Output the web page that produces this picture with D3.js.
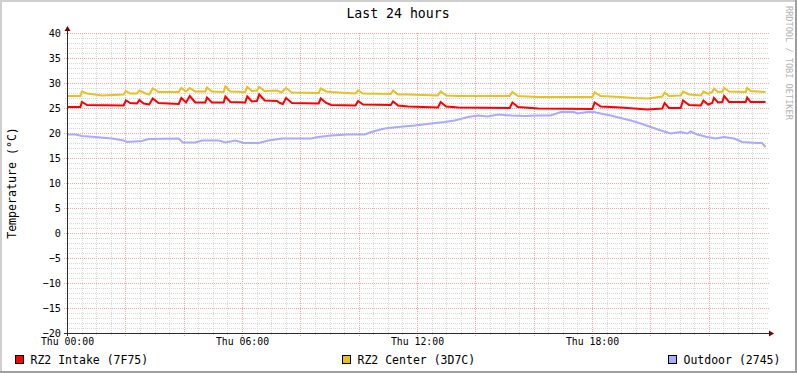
<!DOCTYPE html>
<html>
<head>
<meta charset="utf-8">
<script src="https://cdn.jsdelivr.net/npm/d3@7"></script>
<style>
  body { margin: 0; background: #fff; }
  svg { display: block; font-family: "DejaVu Sans Mono", monospace; }
</style>
</head>
<body>
<div class="chart"></div>
<script>
// Last 24 hours, rrdtool look-alike

var W = 797, H = 373;

// hours since Thu 00:00 and readings (degC)
var intakeHours = [0, 0.46, 0.51, 0.69, 1.94, 2.02, 2.17, 2.4, 2.48, 2.63, 2.82, 2.94, 3.14, 3.83, 3.92, 4.08, 4.21, 4.4, 4.74, 4.8, 4.97, 5.37, 5.43, 5.6, 6.11, 6.18, 6.34, 6.51, 6.59, 6.78, 7.2, 7.3, 7.4, 7.51, 7.71, 8.63, 8.7, 8.89, 9.06, 9.89, 9.98, 10.15, 11.1, 11.18, 11.35, 11.69, 12.72, 12.81, 13.0, 13.41, 15.18, 15.27, 15.46, 16.15, 18.01, 18.09, 18.3, 18.98, 19.44, 19.9, 20.41, 20.49, 20.64, 21.04, 21.12, 21.33, 21.73, 21.82, 21.98, 22.12, 22.18, 22.32, 22.47, 22.53, 22.7, 23.27, 23.32, 23.44, 23.95];
var intakeTemps = [25.2, 25.2, 26.2, 25.6, 25.5, 26.5, 26.0, 25.9, 26.6, 25.9, 25.7, 26.9, 26.0, 25.8, 27.0, 26.1, 27.4, 26.1, 26.1, 27.1, 26.1, 26.1, 27.3, 26.2, 26.1, 27.3, 26.3, 26.4, 27.7, 26.5, 26.4, 26.0, 25.8, 27.0, 26.0, 25.9, 26.9, 26.0, 25.6, 25.5, 26.4, 25.7, 25.6, 26.3, 25.5, 25.3, 25.1, 26.2, 25.3, 25.1, 25.0, 26.1, 25.2, 24.9, 24.8, 26.1, 25.3, 25.1, 24.9, 24.7, 24.9, 26.0, 25.0, 25.0, 26.5, 25.6, 25.5, 26.5, 25.7, 26.0, 27.0, 26.1, 26.2, 27.4, 26.2, 26.2, 27.1, 26.2, 26.2];

var centerHours = [0, 0.46, 0.51, 0.69, 1.2, 1.94, 2.02, 2.17, 2.4, 2.48, 2.7, 2.82, 2.94, 3.14, 3.83, 3.92, 4.08, 4.21, 4.4, 4.74, 4.8, 4.97, 5.37, 5.43, 5.6, 6.11, 6.18, 6.34, 6.51, 6.59, 6.78, 7.2, 7.35, 7.51, 7.71, 8.63, 8.7, 8.89, 9.06, 9.89, 9.98, 10.15, 11.1, 11.18, 11.35, 11.69, 12.72, 12.81, 13.0, 13.41, 15.18, 15.27, 15.46, 16.15, 18.01, 18.09, 18.3, 18.98, 19.44, 19.9, 20.41, 20.49, 20.64, 21.04, 21.12, 21.33, 21.73, 21.82, 21.98, 22.12, 22.18, 22.32, 22.47, 22.53, 22.7, 23.27, 23.32, 23.44, 23.95];
var centerTemps = [27.4, 27.4, 28.3, 27.9, 27.5, 27.7, 28.4, 27.9, 27.9, 28.5, 27.9, 27.7, 28.9, 28.2, 28.2, 29.0, 28.3, 29.0, 28.3, 28.3, 29.1, 28.3, 28.2, 29.3, 28.3, 28.2, 29.2, 28.4, 28.5, 29.2, 28.4, 28.5, 28.1, 29.0, 28.1, 28.0, 28.9, 28.3, 28.2, 27.9, 28.5, 27.9, 27.8, 28.5, 27.7, 27.7, 27.5, 28.3, 27.5, 27.4, 27.4, 28.2, 27.4, 27.2, 27.2, 28.1, 27.4, 27.2, 27.0, 26.9, 27.3, 28.1, 27.4, 27.5, 28.3, 27.7, 27.5, 28.3, 27.8, 28.2, 28.9, 28.2, 28.3, 29.0, 28.3, 28.2, 29.0, 28.4, 28.2];

var outdoorHours = [0, 0.29, 0.51, 0.97, 1.54, 1.94, 2.06, 2.57, 2.8, 3.83, 3.97, 4.4, 4.63, 5.2, 5.43, 5.77, 6.06, 6.57, 6.91, 7.37, 8.38, 8.61, 9.06, 9.63, 10.21, 10.43, 10.89, 11.35, 11.92, 12.49, 12.95, 13.29, 13.75, 14.09, 14.43, 14.78, 15.23, 15.69, 16.15, 16.58, 16.93, 17.38, 17.5, 17.84, 18.07, 18.3, 18.64, 18.98, 19.33, 19.67, 20.01, 20.36, 20.7, 21.04, 21.27, 21.38, 21.61, 21.95, 22.24, 22.53, 22.87, 23.15, 23.66, 23.83, 23.95];
var outdoorTemps = [19.7, 19.7, 19.4, 19.2, 18.9, 18.5, 18.2, 18.4, 18.8, 18.9, 18.1, 18.1, 18.5, 18.5, 18.1, 18.5, 18.0, 18.0, 18.5, 18.9, 18.9, 19.2, 19.5, 19.7, 19.7, 20.2, 20.9, 21.2, 21.5, 21.9, 22.2, 22.5, 23.2, 23.5, 23.3, 23.7, 23.5, 23.4, 23.5, 23.5, 24.2, 24.2, 23.9, 24.2, 24.2, 23.9, 23.5, 23.0, 22.5, 21.9, 21.2, 20.5, 19.9, 20.2, 19.9, 20.3, 19.7, 19.2, 18.9, 19.2, 18.9, 18.2, 18.0, 18.0, 17.2];

var seriesNames = ["RZ2 Intake (7F75)", "RZ2 Center (3D7C)", "Outdoor (2745)"];
var seriesColors = ["#ff0000", "#e8c020", "#aaaaff"];

var yTicks = [-20, -15, -10, -5, 0, 5, 10, 15, 20, 25, 30, 35, 40];
var xTickHours = [0, 6, 12, 18];
var xTickLabels = ["Thu 00:00", "Thu 06:00", "Thu 12:00", "Thu 18:00"];

var x = d3.scaleLinear().domain([0, 24]).range([67, 767]);
var y = d3.scaleLinear().domain([-20, 40]).range([333, 33]);

var svg = d3.select('.chart').append('svg')
	.attr('width', W)
	.attr('height', H);

svg.append('rect').attr('width', W).attr('height', H).attr('fill', '#ffffff');

// 3d frame
svg.append('rect').attr('x', 0).attr('y', 0).attr('width', W).attr('height', 2).attr('fill', '#cfcfcf');
svg.append('rect').attr('x', 0).attr('y', 0).attr('width', 2).attr('height', H).attr('fill', '#cfcfcf');
svg.append('rect').attr('x', 0).attr('y', H - 2).attr('width', W).attr('height', 2).attr('fill', '#9e9e9e');
svg.append('rect').attr('x', W - 2).attr('y', 0).attr('width', 2).attr('height', H).attr('fill', '#9e9e9e');

// grid
var grid = svg.append('g').attr('shape-rendering', 'crispEdges');

var minorY = d3.range(-20, 41, 1).filter(function(d) { return d % 5 != 0; });
var minorX = d3.range(0.5, 24, 0.5).filter(function(d) { return d % 2 != 0; });
var majorX = d3.range(2, 24, 2);

grid.selectAll('.minY').data(minorY).enter().append('line')
	.attr('x1', x(0) - 2).attr('x2', x(24) + 2)
	.attr('y1', function(d) { return Math.round(y(d)) + 0.5; })
	.attr('y2', function(d) { return Math.round(y(d)) + 0.5; })
	.attr('stroke', '#d8d8d8').attr('stroke-dasharray', '1,1');

grid.selectAll('.minX').data(minorX).enter().append('line')
	.attr('y1', y(-20) + 2).attr('y2', y(40))
	.attr('x1', function(d) { return Math.round(x(d)) + 0.5; })
	.attr('x2', function(d) { return Math.round(x(d)) + 0.5; })
	.attr('stroke', '#d8d8d8').attr('stroke-dasharray', '1,1');

grid.selectAll('.majY').data(yTicks.filter(function(d) { return d != -20; })).enter().append('line')
	.attr('x1', x(0) - 3).attr('x2', x(24) + 2)
	.attr('y1', function(d) { return Math.round(y(d)) + 0.5; })
	.attr('y2', function(d) { return Math.round(y(d)) + 0.5; })
	.attr('stroke', '#eca8a8').attr('stroke-dasharray', '1,1');

grid.selectAll('.majX').data(majorX).enter().append('line')
	.attr('y1', y(-20) + 3).attr('y2', y(40))
	.attr('x1', function(d) { return Math.round(x(d)) + 0.5; })
	.attr('x2', function(d) { return Math.round(x(d)) + 0.5; })
	.attr('stroke', '#eca8a8').attr('stroke-dasharray', '1,1');

// data lines
var series = [
	{ hours: intakeHours, temps: intakeTemps },
	{ hours: centerHours, temps: centerTemps },
	{ hours: outdoorHours, temps: outdoorTemps }
];

var line = d3.line()
	.x(function(d) { return x(d[0]); })
	.y(function(d) { return y(d[1]); });

svg.selectAll('.series').data(series).enter().append('path')
	.attr('d', function(s) { return line(d3.zip(s.hours, s.temps)); })
	.attr('fill', 'none')
	.attr('stroke', function(d, i) { return seriesColors[i]; })
	.attr('stroke-width', 2)
	.attr('stroke-linejoin', 'miter');

// axes lines + arrows
svg.append('line')
	.attr('x1', x(0) - 3).attr('x2', x(24) + 3)
	.attr('y1', y(-20) + 0.5).attr('y2', y(-20) + 0.5)
	.attr('stroke', '#2c2c2c').attr('shape-rendering', 'crispEdges');
svg.append('line')
	.attr('x1', x(0) + 0.5).attr('x2', x(0) + 0.5)
	.attr('y1', y(-20) + 3).attr('y2', y(40) - 3)
	.attr('stroke', '#2c2c2c').attr('shape-rendering', 'crispEdges');
svg.append('path')
	.attr('d', 'M' + (x(24) + 2) + ',' + (y(-20) - 2.5) + 'L' + (x(24) + 7) + ',' + (y(-20) + 0.5) + 'L' + (x(24) + 2) + ',' + (y(-20) + 3.5) + 'Z')
	.attr('fill', '#7f0000');
svg.append('path')
	.attr('d', 'M' + (x(0) - 2.5) + ',' + (y(40) - 2) + 'L' + (x(0) + 0.5) + ',' + (y(40) - 7) + 'L' + (x(0) + 3.5) + ',' + (y(40) - 2) + 'Z')
	.attr('fill', '#7f0000');

// tick labels through d3 axes
var yAxis = svg.append('g')
	.attr('transform', 'translate(' + (x(0) - 6) + ',0)')
	.call(d3.axisLeft(y).tickValues(yTicks).tickSize(0).tickPadding(0).tickFormat(d3.format('d')));
yAxis.select('.domain').remove();
yAxis.selectAll('text').attr('font-family', 'DejaVu Sans Mono').attr('font-size', 10.2).attr('fill', '#000');

var xAxis = svg.append('g')
	.attr('transform', 'translate(0,' + (y(-20) + 5) + ')')
	.call(d3.axisBottom(x).tickValues(xTickHours).tickSize(0).tickPadding(0)
		.tickFormat(function(d, i) { return xTickLabels[i]; }));
xAxis.select('.domain').remove();
xAxis.selectAll('text').attr('font-family', 'DejaVu Sans Mono').attr('font-size', 9.8).attr('fill', '#000');

// title
svg.append('text')
	.attr('x', 398).attr('y', 18)
	.attr('text-anchor', 'middle')
	.attr('font-size', 13.2)
	.text('Last 24 hours');

// y label
svg.append('text')
	.attr('transform', 'translate(16,' + y(10) + ') rotate(-90)')
	.attr('text-anchor', 'middle')
	.attr('font-size', 11.6)
	.text('Temperature (°C)');

// watermark
svg.append('text')
	.attr('transform', 'translate(786,6) rotate(90)')
	.attr('font-size', 8.6)
	.attr('fill', '#b4b4b4')
	.text('RRDTOOL / TOBI OETIKER');

// legend
var legendX = [15, 342, 668];
var legend = svg.selectAll('.legend').data(seriesNames).enter().append('g')
	.attr('transform', function(d, i) { return 'translate(' + legendX[i] + ',355)'; });
legend.append('rect')
	.attr('x', 0.5).attr('y', 0.5).attr('width', 8).attr('height', 8)
	.attr('fill', function(d, i) { return seriesColors[i]; })
	.attr('stroke', '#000').attr('shape-rendering', 'crispEdges');
legend.append('text')
	.attr('x', 15.5).attr('y', 8.5)
	.attr('font-size', 11.5)
	.text(function(d) { return d; });
</script>
</body>
</html>
